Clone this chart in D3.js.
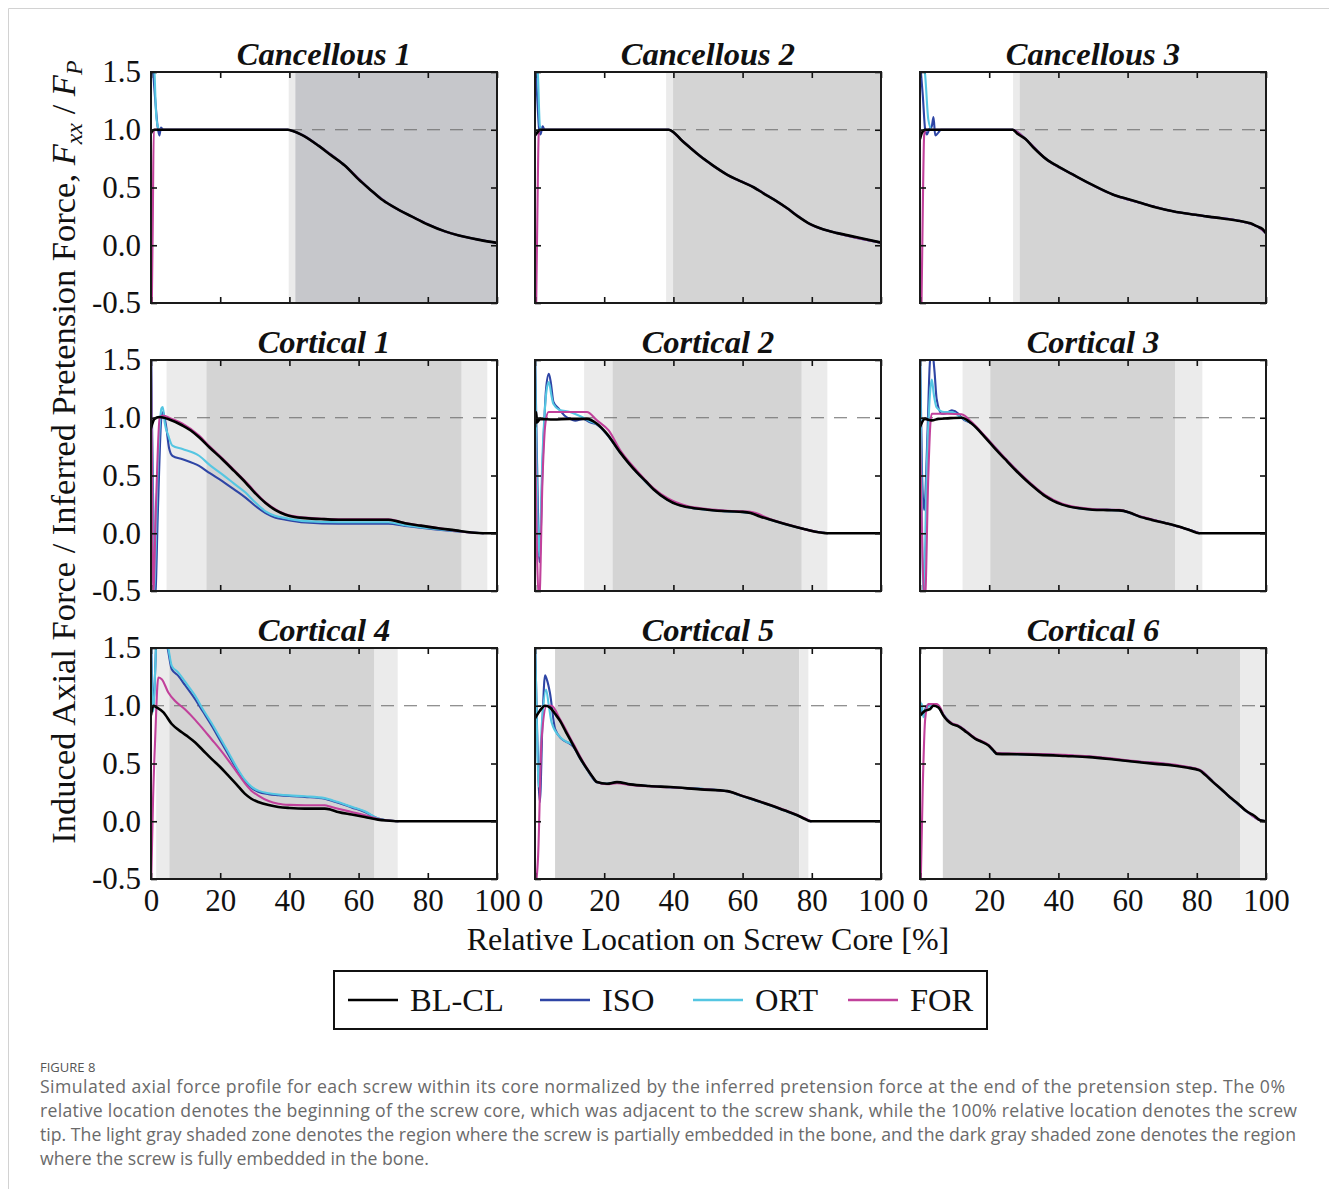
<!DOCTYPE html>
<html><head><meta charset="utf-8">
<script src="https://cdn.jsdelivr.net/npm/d3@7"></script>
<style>body{margin:0;background:#fff;} svg{display:block}</style>
</head><body><svg id="c" width="1329" height="1189"></svg>
<script>
// ---------------- DATA ----------------
const panelTitles = ["Cancellous 1","Cancellous 2","Cancellous 3","Cortical 1","Cortical 2","Cortical 3","Cortical 4","Cortical 5","Cortical 6"];
const seriesNames = ["BL-CL","ISO","ORT","FOR"];
const xTicks = [0,20,40,60,80,100];
const xTickLabels = ["0","20","40","60","80","100"];
const yTicks = [-0.5,0,0.5,1.0,1.5];
const yTickLabels = ["-0.5","0.0","0.5","1.0","1.5"];
const referenceLevel = 1.0;
const xLabel = "Relative Location on Screw Core [%]";

// shaded zones: [start %, end %, kind]
const canc1_zones = [[39.8,41.7,"light"],[41.7,100,"dark"]];
const canc2_zones = [[37.9,39.9,"light"],[39.9,100,"dark"]];
const canc3_zones = [[26.9,28.8,"light"],[28.8,100,"dark"]];
const cort1_zones = [[4.5,16,"light"],[16,89.8,"dark"],[89.8,97.2,"light"]];
const cort2_zones = [[14.2,22.4,"light"],[22.4,77.1,"dark"],[77.1,84.5,"light"]];
const cort3_zones = [[12.3,20.3,"light"],[20.3,73.7,"dark"],[73.7,81.6,"light"]];
const cort4_zones = [[1.5,5.3,"light"],[5.3,64.6,"dark"],[64.6,71.3,"light"]];
const cort5_zones = [[5.8,76.4,"dark"],[76.4,79,"light"]];
const cort6_zones = [[6.6,92.5,"dark"],[92.5,100,"light"]];

// ---- Cancellous 1
const canc1_BLCL = [[0,0.97],[0.4,0.99],[1,1.0],[10,1.0],[20,1.0],[30,1.0],[39.5,1.0],[41,0.99],[44,0.95],[48.5,0.86],[52,0.78],[56,0.69],[60,0.57],[63.8,0.47],[66.5,0.4],[69.6,0.34],[72,0.3],[75.3,0.25],[80,0.18],[85,0.12],[89,0.085],[92.6,0.06],[96,0.04],[100,0.02]];
const canc1_ISO = [[0,1.62],[0.6,1.5],[1.2,1.27],[1.9,1.03],[2.4,0.95],[2.9,1.02],[3.5,1.0],[20,1.0],[39.5,1.0],[41,0.99],[44,0.95],[48.5,0.86],[56,0.69],[63.8,0.47],[69.6,0.34],[75.3,0.25],[85,0.12],[92.6,0.06],[100,0.02]];
const canc1_ORT = [[0,1.65],[0.5,1.6],[1,1.5],[1.4,1.18],[1.9,1.035],[2.4,1.005],[3,1.0],[20,1.0],[39.5,1.0],[41,0.99],[44,0.95],[48.5,0.86],[56,0.69],[63.8,0.47],[69.6,0.34],[75.3,0.25],[85,0.12],[92.6,0.06],[100,0.02]];
const canc1_FOR = [[0.2,-0.6],[0.5,0.16],[0.8,1.0],[20,1.0],[39.5,1.0],[41,0.99],[44,0.95],[48.5,0.86],[56,0.69],[63.8,0.47],[69.6,0.34],[75.3,0.25],[85,0.12],[92.6,0.06],[100,0.02]];

// ---- Cancellous 2
const canc2_BLCL = [[0,0.95],[0.5,0.97],[1.5,1.0],[20,1.0],[38.6,1.0],[40,0.98],[42,0.92],[45,0.84],[47.8,0.77],[51,0.7],[55.6,0.61],[59,0.56],[63.3,0.5],[66,0.45],[69.1,0.395],[72.9,0.32],[76,0.25],[79.7,0.18],[83,0.14],[87.4,0.105],[93,0.07],[100,0.023]];
const canc2_ISO = [[0,1.6],[0.6,1.3],[1.2,1.0],[1.6,0.96],[2.2,1.03],[2.8,1.0],[20,1.0],[38.6,1.0],[42,0.92],[47.8,0.77],[55.6,0.61],[63.3,0.5],[69.1,0.395],[72.9,0.32],[79.7,0.18],[87.4,0.105],[100,0.023]];
const canc2_ORT = [[0,1.65],[0.8,1.5],[1.4,1.035],[2,1.0],[20,1.0],[38.6,1.0],[42,0.92],[47.8,0.77],[55.6,0.61],[63.3,0.5],[69.1,0.395],[72.9,0.32],[79.7,0.18],[87.4,0.105],[100,0.023]];
const canc2_FOR = [[0.3,-0.6],[0.7,0.3],[1.1,0.98],[1.6,1.0],[20,1.0],[38.6,1.0],[42,0.92],[47.8,0.77],[55.6,0.61],[63.3,0.5],[69.1,0.395],[72.9,0.32],[79.7,0.18],[87.4,0.105],[100,0.023]];

// ---- Cancellous 3
const canc3_BLCL = [[0,0.92],[0.5,0.97],[1.5,1.0],[15,1.0],[26.8,1.0],[28,0.97],[30.5,0.92],[33,0.84],[36.3,0.75],[40,0.68],[44,0.615],[50,0.52],[55.7,0.44],[60,0.4],[63.4,0.37],[68,0.33],[73.1,0.295],[78,0.27],[82.8,0.25],[88,0.23],[92.5,0.21],[95.5,0.19],[97.3,0.165],[99,0.14],[100,0.105]];
const canc3_ISO = [[0,1.6],[0.8,1.3],[1.5,1.0],[2,0.96],[2.6,1.0],[3.4,1.03],[3.9,1.11],[4.4,0.95],[5.3,0.975],[6,1.0],[15,1.0],[26.8,1.0],[30.5,0.92],[36.3,0.75],[44,0.615],[55.7,0.44],[63.4,0.37],[73.1,0.295],[82.8,0.25],[92.5,0.21],[97.3,0.165],[100,0.105]];
const canc3_ORT = [[0,1.65],[1.4,1.5],[2.4,1.09],[3.4,1.0],[15,1.0],[26.8,1.0],[30.5,0.92],[36.3,0.75],[44,0.615],[55.7,0.44],[63.4,0.37],[73.1,0.295],[82.8,0.25],[92.5,0.21],[97.3,0.165],[100,0.105]];
const canc3_FOR = [[0.4,-0.6],[0.8,0.3],[1.2,0.95],[1.7,1.0],[15,1.0],[26.8,1.0],[30.5,0.92],[36.3,0.75],[44,0.615],[55.7,0.44],[63.4,0.37],[73.1,0.295],[82.8,0.25],[92.5,0.21],[97.3,0.165],[100,0.105]];

// ---- Cortical 1
const cort1_BLCL = [[0,0.91],[1,0.99],[2.4,1.006],[5.3,0.985],[9.1,0.933],[11.5,0.89],[13.9,0.831],[17,0.74],[20.6,0.641],[24,0.54],[27.4,0.437],[30,0.35],[33.1,0.262],[36,0.2],[38.9,0.16],[41.5,0.14],[44.6,0.131],[50,0.122],[54.2,0.117],[62,0.117],[68.6,0.117],[71,0.105],[73.4,0.087],[78,0.066],[83,0.044],[88,0.025],[92.6,0.006],[96,0.0],[100,0.0]];
const cort1_ISO = [[0,1.6],[0.5,0.5],[1.2,-0.55],[2,0.2],[3,1.0],[3.5,1.05],[4.5,0.9],[5.2,0.74],[6.2,0.67],[9.1,0.641],[13.9,0.583],[17,0.52],[20.6,0.452],[24,0.38],[27.4,0.306],[30,0.24],[33.1,0.175],[36,0.135],[38.9,0.117],[44.6,0.093],[54.2,0.082],[68.6,0.082],[73.4,0.064],[83,0.03],[92.6,0.006],[96,0.0]];
const cort1_ORT = [[0,1.6],[0.4,0.5],[0.8,-0.55],[2,0.6],[3,1.08],[3.4,1.093],[4,0.95],[5,0.845],[6.2,0.758],[9.1,0.729],[13.9,0.671],[17,0.59],[20.6,0.51],[24,0.43],[27.4,0.35],[30,0.27],[33.1,0.19],[36,0.15],[38.9,0.131],[44.6,0.105],[54.2,0.095],[68.6,0.095],[73.4,0.07],[83,0.035],[92.6,0.006],[96,0.0]];
const cort1_FOR = [[0,1.6],[0.3,0.5],[0.6,-0.55],[1.5,0.3],[2.5,1.0],[3.4,1.02],[6,0.99],[9.1,0.948],[13.9,0.845],[17,0.75],[20.6,0.65],[27.4,0.445],[33.1,0.268],[38.9,0.165],[44.6,0.135],[54.2,0.12],[68.6,0.12],[73.4,0.089],[83,0.045],[92.6,0.006],[96,0.0]];

// ---- Cortical 2
const cort2_BLCL = [[0,0.92],[0.3,1.05],[0.6,0.96],[1.5,0.99],[5.3,0.985],[10,0.99],[15,0.99],[17.9,0.948],[20.8,0.86],[24.6,0.70],[27,0.61],[29.5,0.525],[32,0.45],[34.3,0.379],[38.2,0.292],[41,0.25],[44,0.227],[49.8,0.204],[55.6,0.19],[60,0.185],[62.3,0.175],[65,0.145],[68.1,0.117],[71,0.09],[74.9,0.058],[78,0.035],[82.6,0.006],[84.5,0],[100,0]];
const cort2_ISO = [[0,1.6],[0.6,0.6],[1.3,-0.25],[2.2,0.6],[3.2,1.25],[4,1.38],[4.6,1.3],[5.3,1.14],[6.8,1.08],[8.5,1.02],[10.1,0.99],[11.6,0.975],[14,0.99],[15.9,0.96],[17.9,0.94],[20.8,0.855],[24.6,0.70],[29.5,0.525],[34.3,0.379],[38.2,0.292],[44,0.227],[49.8,0.204],[55.6,0.19],[62.3,0.175],[68.1,0.117],[74.9,0.058],[82.6,0.006],[84.5,0]];
const cort2_ORT = [[0,1.6],[0.5,0.5],[1.2,-0.2],[2.2,0.7],[3.4,1.25],[4,1.31],[4.7,1.2],[5.3,1.12],[7,1.07],[10.1,1.05],[14,1.0],[15.9,0.97],[17.9,0.945],[20.8,0.858],[24.6,0.70],[29.5,0.525],[34.3,0.379],[38.2,0.292],[44,0.227],[49.8,0.204],[55.6,0.19],[62.3,0.175],[68.1,0.117],[74.9,0.058],[82.6,0.006],[84.5,0]];
const cort2_FOR = [[0,0.9],[0.6,-0.2],[1.2,-0.6],[2.2,0.5],[3,0.95],[3.9,1.05],[8,1.05],[12,1.05],[15,1.05],[17.9,0.977],[21.3,0.89],[24.6,0.72],[29.5,0.54],[34.3,0.39],[38.2,0.305],[44,0.235],[49.8,0.21],[55.6,0.195],[62.3,0.185],[68.1,0.122],[74.9,0.06],[82.6,0.006],[84.5,0]];

// ---- Cortical 3
const cort3_BLCL = [[0,0.92],[1.4,0.99],[3.4,0.977],[5.3,0.99],[8,0.995],[12,1.0],[15,0.948],[18.8,0.831],[21.5,0.74],[24.6,0.641],[27.5,0.55],[30.4,0.466],[33.3,0.39],[36.2,0.321],[38.5,0.28],[41.1,0.248],[45,0.22],[49.8,0.204],[54,0.2],[57.5,0.198],[60.5,0.18],[63.3,0.146],[67,0.115],[71,0.087],[74.5,0.06],[77.8,0.029],[80.7,0],[100,0]];
const cort3_ISO = [[0,1.6],[0.6,0.5],[1.2,0.2],[2.2,0.9],[2.8,1.45],[3.4,1.6],[4.2,1.4],[4.8,1.166],[6.3,1.035],[7.5,1.04],[9.2,1.064],[11.1,1.035],[12,1.0],[15,0.95],[18.8,0.835],[24.6,0.645],[30.4,0.47],[36.2,0.325],[41.1,0.25],[49.8,0.205],[57.5,0.2],[63.3,0.147],[71,0.088],[77.8,0.03],[80.7,0]];
const cort3_ORT = [[0,1.6],[0.5,0.3],[1,-0.55],[2,0.6],[3,1.25],[3.4,1.33],[4,1.2],[4.8,1.09],[7,1.05],[9.2,1.05],[12,1.0],[15,0.95],[18.8,0.835],[24.6,0.645],[30.4,0.47],[36.2,0.325],[41.1,0.25],[49.8,0.205],[57.5,0.2],[63.3,0.147],[71,0.088],[77.8,0.03],[80.7,0]];
const cort3_FOR = [[0,0.9],[0.7,-0.2],[1.4,-0.6],[2.4,0.5],[3,0.95],[3.4,1.035],[8,1.035],[12,1.03],[15,0.96],[18.8,0.84],[24.6,0.65],[30.4,0.475],[36.2,0.33],[41.1,0.255],[49.8,0.21],[57.5,0.202],[63.3,0.15],[71,0.089],[77.8,0.03],[80.7,0]];

// ---- Cortical 4
const cort4_BLCL = [[0,0.92],[0.7,1.0],[1.6,0.986],[3.6,0.943],[6,0.842],[8.9,0.77],[10.8,0.73],[12.7,0.684],[15,0.615],[17.5,0.54],[20,0.47],[22.3,0.397],[24.7,0.32],[27.1,0.239],[29,0.195],[31,0.167],[34,0.14],[36.8,0.124],[40,0.115],[44.5,0.109],[50.2,0.109],[52,0.1],[54.1,0.08],[58,0.058],[61.8,0.037],[65.6,0.014],[68,0.006],[71.4,0],[100,0]];
const cort4_ISO = [[0,1.6],[0.3,1.2],[0.7,1.0],[1.2,1.3],[1.6,1.6],[4,1.6],[4.8,1.5],[6,1.316],[7.9,1.259],[9.8,1.18],[12.7,1.06],[15,0.95],[17.5,0.83],[20,0.70],[22.3,0.58],[24.7,0.455],[27.1,0.35],[29,0.29],[31,0.255],[34,0.235],[36.8,0.226],[40,0.218],[44.5,0.21],[50.2,0.195],[52,0.18],[54.1,0.161],[58,0.12],[61.8,0.08],[65.6,0.023],[68,0.008],[71.4,0]];
const cort4_ORT = [[0,1.6],[0.3,1.1],[0.7,0.95],[1.2,1.3],[1.6,1.6],[4.2,1.6],[5,1.5],[6,1.345],[7.9,1.287],[9.8,1.21],[12.7,1.09],[15,0.97],[17.5,0.85],[20,0.72],[22.3,0.60],[24.7,0.47],[27.1,0.36],[29,0.3],[31,0.265],[34,0.242],[36.8,0.232],[40,0.224],[44.5,0.216],[50.2,0.2],[52,0.185],[54.1,0.167],[58,0.125],[61.8,0.086],[65.6,0.023],[68,0.008],[71.4,0]];
const cort4_FOR = [[0,-0.6],[0.6,0.2],[1.2,0.71],[2.1,1.244],[3.1,1.23],[5,1.115],[6.9,1.043],[9.8,0.97],[12.7,0.88],[15,0.80],[17.5,0.71],[20,0.62],[22.3,0.53],[24.7,0.43],[27.1,0.33],[29,0.265],[31,0.222],[34,0.175],[36.8,0.152],[40,0.142],[44.5,0.138],[50.2,0.138],[52,0.125],[54.1,0.109],[58,0.08],[61.8,0.052],[65.6,0.02],[68,0.008],[71.4,0]];

// ---- Cortical 5
const cort5_BLCL = [[0,0.89],[1.4,0.957],[2.9,1.0],[4.3,0.986],[5.8,0.93],[7.2,0.871],[9,0.77],[11.1,0.655],[13,0.55],[15,0.454],[16.5,0.39],[17.9,0.339],[20.8,0.325],[23.7,0.339],[27.5,0.319],[33,0.305],[39.1,0.296],[47.8,0.276],[55.6,0.261],[57.5,0.245],[59.4,0.224],[64,0.18],[68.1,0.138],[72,0.095],[75.8,0.052],[78,0.02],[79.7,0],[100,0]];
const cort5_ISO = [[0,1.6],[0.6,0.8],[1.4,0.167],[2.2,0.9],[2.9,1.264],[3.5,1.22],[4.3,1.115],[5.8,0.8],[7.7,0.713],[10.1,0.67],[11.1,0.645],[13,0.545],[15,0.452],[17.9,0.337],[20.8,0.324],[23.7,0.337],[27.5,0.318],[39.1,0.295],[55.6,0.26],[59.4,0.223],[68.1,0.137],[75.8,0.051],[79.7,0]];
const cort5_ORT = [[0,1.6],[0.5,0.9],[1,0.3],[2,0.85],[3.2,1.14],[4,1.0],[4.8,0.856],[7.2,0.73],[9,0.69],[11.1,0.655],[13,0.548],[15,0.453],[17.9,0.338],[20.8,0.324],[23.7,0.338],[27.5,0.318],[39.1,0.295],[55.6,0.26],[59.4,0.223],[68.1,0.137],[75.8,0.051],[79.7,0]];
const cort5_FOR = [[0,-0.6],[0.9,-0.3],[1.9,0.71],[3.4,1.0],[4.8,1.0],[7.2,0.885],[11.1,0.67],[15,0.46],[17.9,0.34],[20.8,0.32],[23.7,0.33],[27.5,0.315],[39.1,0.294],[55.6,0.26],[59.4,0.226],[68.1,0.14],[75.8,0.054],[79.7,0]];

// ---- Cortical 6
const cort6_BLCL = [[0,0.914],[1.5,0.957],[2.9,0.971],[3.9,1.0],[5.3,0.986],[6.8,0.914],[8,0.87],[9.2,0.842],[11.1,0.822],[13.5,0.77],[16,0.713],[18,0.685],[19.8,0.655],[21,0.62],[22.3,0.583],[28,0.58],[34.4,0.575],[42,0.565],[48.9,0.555],[56,0.535],[63.4,0.511],[68,0.497],[73.1,0.483],[77,0.465],[80.8,0.44],[82.5,0.4],[84.7,0.339],[87,0.28],[89.5,0.21],[92,0.15],[94.4,0.086],[96.5,0.05],[98.3,0.009],[100,0]];
const cort6_ISO = [[0,1.04],[1,0.914],[1.9,1.0],[2.5,1.0],[3.9,1.01],[5.3,0.99],[6.8,0.92],[9.2,0.845],[11.1,0.825],[16,0.716],[19.8,0.658],[22.3,0.586],[34.4,0.578],[48.9,0.558],[63.4,0.514],[73.1,0.486],[80.8,0.443],[84.7,0.34],[89.5,0.21],[94.4,0.086],[98.3,0.009],[100,0]];
const cort6_ORT = [[0,0.95],[0.5,1.02],[1,0.9],[1.9,0.98],[3,1.0],[3.9,1.01],[5.3,0.99],[6.8,0.92],[9.2,0.845],[11.1,0.825],[16,0.716],[19.8,0.658],[22.3,0.586],[34.4,0.578],[48.9,0.558],[63.4,0.514],[73.1,0.486],[80.8,0.443],[84.7,0.34],[89.5,0.21],[94.4,0.086],[98.3,0.009],[100,0]];
const cort6_FOR = [[0.2,-0.55],[0.8,0.3],[1.5,0.885],[2.4,1.014],[4.8,1.014],[5.8,0.986],[6.8,0.92],[9.2,0.85],[11.1,0.828],[16,0.72],[19.8,0.662],[22.3,0.59],[34.4,0.582],[48.9,0.562],[63.4,0.518],[73.1,0.49],[80.8,0.446],[84.7,0.342],[89.5,0.212],[94.4,0.087],[98.3,0.009],[100,0]];

const captionTitle = "FIGURE 8";
const captionLines = [
 "Simulated axial force profile for each screw within its core normalized by the inferred pretension force at the end of the pretension step. The 0%",
 "relative location denotes the beginning of the screw core, which was adjacent to the screw shank, while the 100% relative location denotes the screw",
 "tip. The light gray shaded zone denotes the region where the screw is partially embedded in the bone, and the dark gray shaded zone denotes the region",
 "where the screw is fully embedded in the bone."
];

const panelZones = [canc1_zones,canc2_zones,canc3_zones,cort1_zones,cort2_zones,cort3_zones,cort4_zones,cort5_zones,cort6_zones];
const panelSeries = [
 [canc1_BLCL,canc1_ISO,canc1_ORT,canc1_FOR],
 [canc2_BLCL,canc2_ISO,canc2_ORT,canc2_FOR],
 [canc3_BLCL,canc3_ISO,canc3_ORT,canc3_FOR],
 [cort1_BLCL,cort1_ISO,cort1_ORT,cort1_FOR],
 [cort2_BLCL,cort2_ISO,cort2_ORT,cort2_FOR],
 [cort3_BLCL,cort3_ISO,cort3_ORT,cort3_FOR],
 [cort4_BLCL,cort4_ISO,cort4_ORT,cort4_FOR],
 [cort5_BLCL,cort5_ISO,cort5_ORT,cort5_FOR],
 [cort6_BLCL,cort6_ISO,cort6_ORT,cort6_FOR]
];

// ---------------- STYLE / LAYOUT ----------------
const seriesColors = ["#000000","#2e45a5","#55c6e2","#c1419b"];
const seriesWidths = [2.6,2.1,2.1,2.1];
const drawOrder = [1,2,3,0];
const lightFill = "#ebebeb";
const darkFills = ["#c6c7cb","#d4d4d4","#d4d4d4","#d4d4d4","#d4d4d4","#d4d4d4","#d4d4d4","#d4d4d4","#d4d4d4"];
const colX = [151,535,920];
const rowY = [72,360,648];
const pw = 346, ph = 231;
const serif = "'Liberation Serif','Times New Roman',serif";

const svg = d3.select("#c");
// card border
svg.append("path").attr("d","M8.5,1189 V8.5 H1329").attr("fill","none").attr("stroke","#d2d2d2").attr("stroke-width",1);

const x = d3.scaleLinear().domain([0,100]).range([0,pw]);
const y = d3.scaleLinear().domain([-0.5,1.5]).range([ph,0]);
const line = d3.line().x(d=>x(d[0])).y(d=>y(d[1])).curve(d3.curveMonotoneX);

panelTitles.forEach((title,i)=>{
  const r = Math.floor(i/3), c = i%3;
  const g = svg.append("g").attr("transform",`translate(${colX[c]},${rowY[r]})`);
  const clipId = "clip"+i;
  g.append("clipPath").attr("id",clipId).append("rect").attr("width",pw).attr("height",ph);
  const plot = g.append("g").attr("clip-path",`url(#${clipId})`);
  plot.selectAll("rect.zone").data(panelZones[i]).join("rect")
    .attr("x",d=>x(d[0])).attr("width",d=>x(d[1])-x(d[0]))
    .attr("y",0).attr("height",ph)
    .attr("fill",d=>d[2]==="dark"?darkFills[i]:lightFill);
  plot.append("line").attr("x1",0).attr("x2",pw).attr("y1",y(referenceLevel)).attr("y2",y(referenceLevel))
    .attr("stroke","#6e6e6e").attr("stroke-width",1.1).attr("stroke-dasharray","13,10");
  drawOrder.forEach(s=>{
    plot.append("path").datum(panelSeries[i][s]).attr("d",line)
      .attr("fill","none").attr("stroke",seriesColors[s]).attr("stroke-width",seriesWidths[s])
      .attr("stroke-linejoin","round").attr("stroke-linecap","round");
  });
  // axes (inward ticks, box)
  const ax = g.append("g").attr("font-family",serif);
  const bottom = d3.axisBottom(x).tickValues(xTicks).tickSize(-6).tickPadding(10)
      .tickFormat((d,k)=> r===2 ? xTickLabels[k] : "");
  const top = d3.axisTop(x).tickValues(xTicks).tickSize(-6).tickFormat("");
  const left = d3.axisLeft(y).tickValues(yTicks).tickSize(-6).tickPadding(10)
      .tickFormat((d,k)=> c===0 ? yTickLabels[k] : "");
  const right = d3.axisRight(y).tickValues(yTicks).tickSize(-6).tickFormat("");
  [[bottom,`translate(0,${ph})`],[top,"translate(0,0)"],[left,"translate(0,0)"],[right,`translate(${pw},0)`]].forEach(([a,t])=>{
    const gg = ax.append("g").attr("transform",t).call(a);
    gg.select(".domain").remove();
    gg.selectAll(".tick line").attr("stroke","#111").attr("stroke-width",1.6);
    gg.selectAll(".tick text").attr("font-size",31).attr("fill","#111").attr("font-family",serif);
  });
  g.append("rect").attr("width",pw).attr("height",ph).attr("fill","none").attr("stroke","#1a1a1a").attr("stroke-width",2);
  g.append("text").attr("x",pw/2).attr("y",-7).attr("text-anchor","middle")
    .attr("font-family",serif).attr("font-weight","bold").attr("font-style","italic").attr("font-size",32.5)
    .attr("fill","#111").text(title);
});

// x label
svg.append("text").attr("x",708).attr("y",950).attr("text-anchor","middle").attr("font-family",serif)
  .attr("font-size",32).attr("fill","#111").text(xLabel);

// y label
const yl = svg.append("text").attr("transform","translate(75,452) rotate(-90)").attr("text-anchor","middle")
  .attr("font-family",serif).attr("font-size",34.5).attr("fill","#111");
yl.append("tspan").text("Induced Axial Force / Inferred Pretension Force, ");
yl.append("tspan").attr("font-style","italic").text("F");
yl.append("tspan").attr("font-style","italic").attr("font-size",24).attr("dy",7).text("xx");
yl.append("tspan").attr("dy",-7).text(" / ");
yl.append("tspan").attr("font-style","italic").text("F");
yl.append("tspan").attr("font-style","italic").attr("font-size",24).attr("dy",7).text("P");

// legend
const lg = svg.append("g");
lg.append("rect").attr("x",334).attr("y",971).attr("width",653).attr("height",58).attr("fill","#fff").attr("stroke","#111").attr("stroke-width",2);
const legX = [348,540,693,848];
seriesNames.forEach((n,k)=>{
  lg.append("line").attr("x1",legX[k]).attr("x2",legX[k]+50).attr("y1",1000).attr("y2",1000)
    .attr("stroke",seriesColors[k]).attr("stroke-width",2.4);
  lg.append("text").attr("x",legX[k]+62).attr("y",1011).attr("font-family",serif).attr("font-size",32.5).attr("fill","#111").text(n);
});

// caption
svg.append("text").attr("x",40).attr("y",1072).attr("font-family","'Open Sans',sans-serif").attr("font-size",13)
  .attr("fill","#555").text(captionTitle);
const capTexts = svg.selectAll("text.cap").data(captionLines).join("text").attr("class","cap")
  .attr("x",40).attr("y",(d,k)=>1093+k*24).attr("font-family","'Open Sans',sans-serif").attr("font-size",16)
  .attr("fill","#6a6a6a").text(d=>d);
// fit caption font so the widest line spans the reference width
const w3 = capTexts.nodes()[2].getComputedTextLength();
const fs = 16*1256/w3;
capTexts.attr("font-size",fs);
const capWidths = [1245,1257,1256];
capTexts.each(function(d,k){ if(k<3) d3.select(this).attr("textLength",capWidths[k]).attr("lengthAdjust","spacing"); });
</script></body></html>
